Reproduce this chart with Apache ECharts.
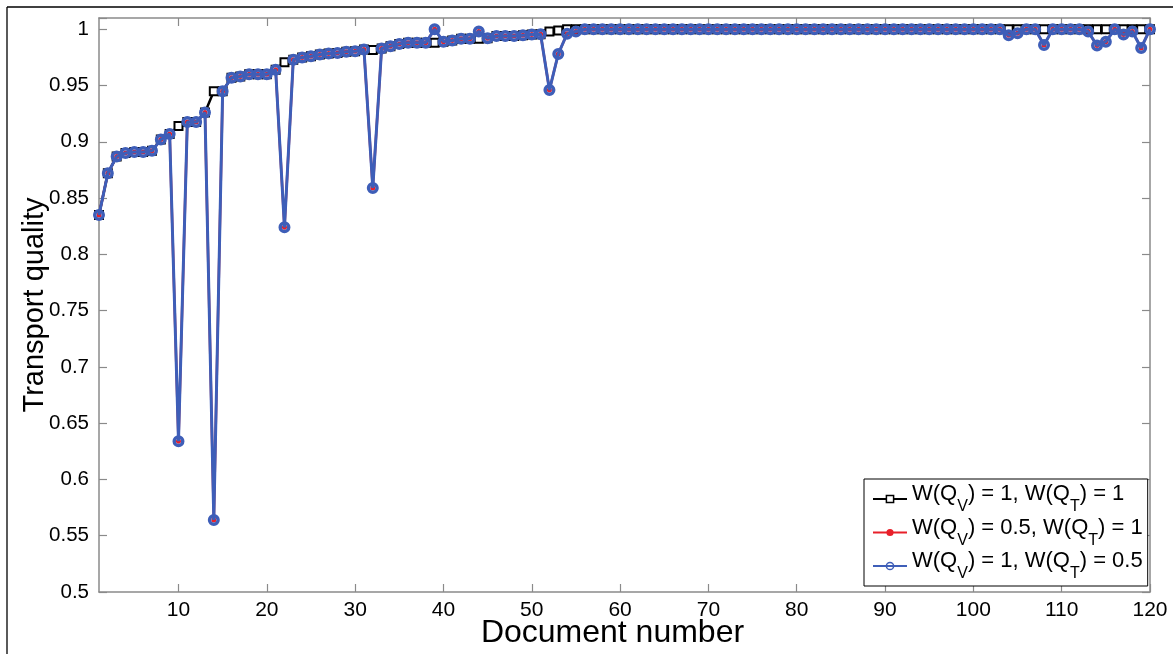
<!DOCTYPE html>
<html>
<head>
<meta charset="utf-8">
<style>
  html, body { margin: 0; padding: 0; background: #fff; }
  #chart { width: 1173px; height: 654px; }
</style>
<script src="https://cdn.jsdelivr.net/npm/echarts@6.0.0/dist/echarts.min.js"></script>
</head>
<body>
<div id="chart"></div>
<script>
// ---- data ----
var docCount = 120;
var documents = [];
for (var i = 1; i <= docCount; i++) documents.push(String(i));

var seriesNames = ['W(Q_V) = 1, W(Q_T) = 1', 'W(Q_V) = 0.5, W(Q_T) = 1', 'W(Q_V) = 1, W(Q_T) = 0.5'];

var qualityEqual = [
  0.835, 0.872, 0.887, 0.890, 0.891, 0.891, 0.892, 0.902, 0.907, 0.914,
  0.9175, 0.9175, 0.926, 0.945, 0.945, 0.957, 0.958, 0.960, 0.960, 0.960,
  0.964, 0.9707, 0.973, 0.975, 0.976, 0.9775, 0.9785, 0.979, 0.980, 0.9805,
  0.982, 0.9815, 0.983, 0.985, 0.987, 0.988, 0.988, 0.988, 0.988, 0.989,
  0.990, 0.9915, 0.9915, 0.9915, 0.992, 0.994, 0.994, 0.994, 0.9947, 0.9953,
  0.9955, 0.998, 0.999, 1, 1, 1, 1, 1, 1, 1,
  1, 1, 1, 1, 1, 1, 1, 1, 1, 1,
  1, 1, 1, 1, 1, 1, 1, 1, 1, 1,
  1, 1, 1, 1, 1, 1, 1, 1, 1, 1,
  1, 1, 1, 1, 1, 1, 1, 1, 1, 1,
  1, 1, 1, 1, 1, 1, 1, 1, 1, 1,
  1, 1, 1, 1, 1, 1, 1, 1, 1, 1
];

var qualityHalfV = [
  0.835, 0.872, 0.887, 0.890, 0.891, 0.891, 0.892, 0.902, 0.907, 0.634,
  0.9175, 0.9175, 0.926, 0.564, 0.945, 0.957, 0.958, 0.960, 0.960, 0.960,
  0.964, 0.824, 0.973, 0.975, 0.976, 0.9775, 0.9785, 0.979, 0.980, 0.9805,
  0.982, 0.859, 0.983, 0.985, 0.987, 0.988, 0.988, 0.988, 1.0, 0.989,
  0.990, 0.9915, 0.9915, 0.998, 0.992, 0.994, 0.994, 0.994, 0.9947, 0.9953,
  0.9955, 0.946, 0.978, 0.996, 0.998, 1, 1, 1, 1, 1,
  1, 1, 1, 1, 1, 1, 1, 1, 1, 1,
  1, 1, 1, 1, 1, 1, 1, 1, 1, 1,
  1, 1, 1, 1, 1, 1, 1, 1, 1, 1,
  1, 1, 1, 1, 1, 1, 1, 1, 1, 1,
  1, 1, 1, 0.9947, 0.9965, 1, 1, 0.986, 1, 1,
  1, 1, 0.998, 0.9855, 0.989, 1, 0.9953, 0.998, 0.9834, 1
];

var qualityHalfT = [
  0.835, 0.872, 0.887, 0.890, 0.891, 0.891, 0.892, 0.902, 0.907, 0.634,
  0.9175, 0.9175, 0.926, 0.564, 0.945, 0.957, 0.958, 0.960, 0.960, 0.960,
  0.964, 0.824, 0.973, 0.975, 0.976, 0.9775, 0.9785, 0.979, 0.980, 0.9805,
  0.982, 0.859, 0.983, 0.985, 0.987, 0.988, 0.988, 0.988, 1.0, 0.989,
  0.990, 0.9915, 0.9915, 0.998, 0.992, 0.994, 0.994, 0.994, 0.9947, 0.9953,
  0.9955, 0.946, 0.978, 0.996, 0.998, 1, 1, 1, 1, 1,
  1, 1, 1, 1, 1, 1, 1, 1, 1, 1,
  1, 1, 1, 1, 1, 1, 1, 1, 1, 1,
  1, 1, 1, 1, 1, 1, 1, 1, 1, 1,
  1, 1, 1, 1, 1, 1, 1, 1, 1, 1,
  1, 1, 1, 0.9947, 0.9965, 1, 1, 0.986, 1, 1,
  1, 1, 0.998, 0.9855, 0.989, 1, 0.9953, 0.998, 0.9834, 1
];

var yMin = 0.5, yMax = 1.01, yStep = 0.05;

// ---- styles ----
var FONT = 'Liberation Sans, Arial, sans-serif';
var AXIS_GRAY = '#8a8a8a';
var BLACK = '#000000', RED = '#e8202a', BLUE = '#3e5eb8';

function tenth(index) { return (index + 1) % 10 === 0; }

function legendLabel(name) {
  var parts = name.split(/_([VT])/);
  var out = '';
  for (var k = 0; k < parts.length; k++) {
    if (k % 2 === 1) out += '{s|' + parts[k] + '}';
    else if (parts[k]) out += '{n|' + parts[k] + '}';
  }
  return out;
}

var chart = echarts.init(document.getElementById('chart'), null, { renderer: 'canvas' });

var option = {
  animation: false,
  backgroundColor: '#ffffff',
  grid: { left: 99, right: 23, top: 18, bottom: 62, containLabel: false },
  xAxis: [
    {
      type: 'category', data: documents, boundaryGap: false, position: 'bottom',
      name: 'Document number', nameLocation: 'middle', nameGap: 25, nameMoveOverlap: false,
      nameTextStyle: { fontFamily: FONT, fontSize: 32, color: '#000', padding: [0, 24, 0, 0] },
      axisLine: { show: true, lineStyle: { color: AXIS_GRAY, width: 1.5 } },
      axisTick: { show: true, inside: true, length: 8, interval: tenth, lineStyle: { color: AXIS_GRAY, width: 1.2 } },
      axisLabel: { show: true, interval: tenth, margin: 8, fontFamily: FONT, fontSize: 21, color: '#000' },
      splitLine: { show: false }
    },
    {
      type: 'category', data: documents, boundaryGap: false, position: 'top',
      axisLine: { show: true, lineStyle: { color: AXIS_GRAY, width: 1.5 } },
      axisTick: { show: true, inside: true, length: 8, interval: tenth, lineStyle: { color: AXIS_GRAY, width: 1.2 } },
      axisLabel: { show: false },
      splitLine: { show: false }
    }
  ],
  yAxis: [
    {
      type: 'value', min: yMin, max: yMax, interval: yStep, position: 'left',
      name: 'Transport quality', nameLocation: 'middle', nameGap: 50, nameMoveOverlap: false,
      nameTextStyle: { fontFamily: FONT, fontSize: 29, color: '#000' },
      axisLine: { show: true, lineStyle: { color: AXIS_GRAY, width: 1.5 } },
      axisTick: { show: true, inside: true, length: 8, lineStyle: { color: AXIS_GRAY, width: 1.2 } },
      axisLabel: {
        margin: 10, fontFamily: FONT, fontSize: 20.5, color: '#000',
        formatter: function (v) { return v > 1.0001 ? '' : String(+v.toFixed(2)); }
      },
      splitLine: { show: false }
    },
    {
      type: 'value', min: yMin, max: yMax, interval: yStep, position: 'right',
      axisLine: { show: true, lineStyle: { color: AXIS_GRAY, width: 1.5 } },
      axisTick: { show: true, inside: true, length: 8, lineStyle: { color: AXIS_GRAY, width: 1.2 } },
      axisLabel: { show: false },
      splitLine: { show: false }
    }
  ],
  legend: {
    orient: 'vertical',
    left: 864, top: 479,
    padding: [4, 5, 4, 8],
    itemGap: 1.5,
    itemWidth: 34, itemHeight: 9,
    backgroundColor: '#ffffff',
    borderColor: '#000000', borderWidth: 1,
    data: [
      { name: seriesNames[0], itemStyle: { borderWidth: 1.5 } },
      { name: seriesNames[1] },
      { name: seriesNames[2], itemStyle: { borderWidth: 1.5 } }
    ],
    formatter: legendLabel,
    textStyle: {
      color: '#000',
      rich: {
        n: { fontFamily: FONT, fontSize: 22, color: '#000', lineHeight: 26, verticalAlign: 'top' },
        s: { fontFamily: FONT, fontSize: 16, color: '#000', lineHeight: 32, verticalAlign: 'bottom' }
      }
    }
  },
  graphic: [
    { type: 'line', shape: { x1: 7, y1: 7, x2: 7, y2: 654 }, style: { stroke: '#000', lineWidth: 1.3 }, silent: true },
    { type: 'line', shape: { x1: 7, y1: 7, x2: 1173, y2: 7 }, style: { stroke: '#000', lineWidth: 1.3 }, silent: true }
  ],
  series: [
    {
      name: seriesNames[0], type: 'line', data: qualityEqual,
      xAxisIndex: 0, yAxisIndex: 0,
      symbol: 'rect', symbolSize: 8, showAllSymbol: true,
      lineStyle: { color: BLACK, width: 2.5 },
      itemStyle: { color: '#ffffff', borderColor: BLACK, borderWidth: 2 },
      emphasis: { disabled: true }, z: 2
    },
    {
      name: seriesNames[1], type: 'line', data: qualityHalfV,
      xAxisIndex: 0, yAxisIndex: 0,
      symbol: 'circle', symbolSize: 5, showAllSymbol: true,
      lineStyle: { color: RED, width: 2.5 },
      itemStyle: { color: RED, borderWidth: 0 },
      emphasis: { disabled: true }, z: 3
    },
    {
      name: seriesNames[2], type: 'line', data: qualityHalfT,
      xAxisIndex: 0, yAxisIndex: 0,
      symbol: 'circle', symbolSize: 8.5, showAllSymbol: true,
      lineStyle: { color: BLUE, width: 3 },
      itemStyle: { color: 'rgba(0,0,0,0)', borderColor: BLUE, borderWidth: 3.5 },
      emphasis: { disabled: true }, z: 4
    }
  ]
};

chart.setOption(option);
</script>
</body>
</html>
